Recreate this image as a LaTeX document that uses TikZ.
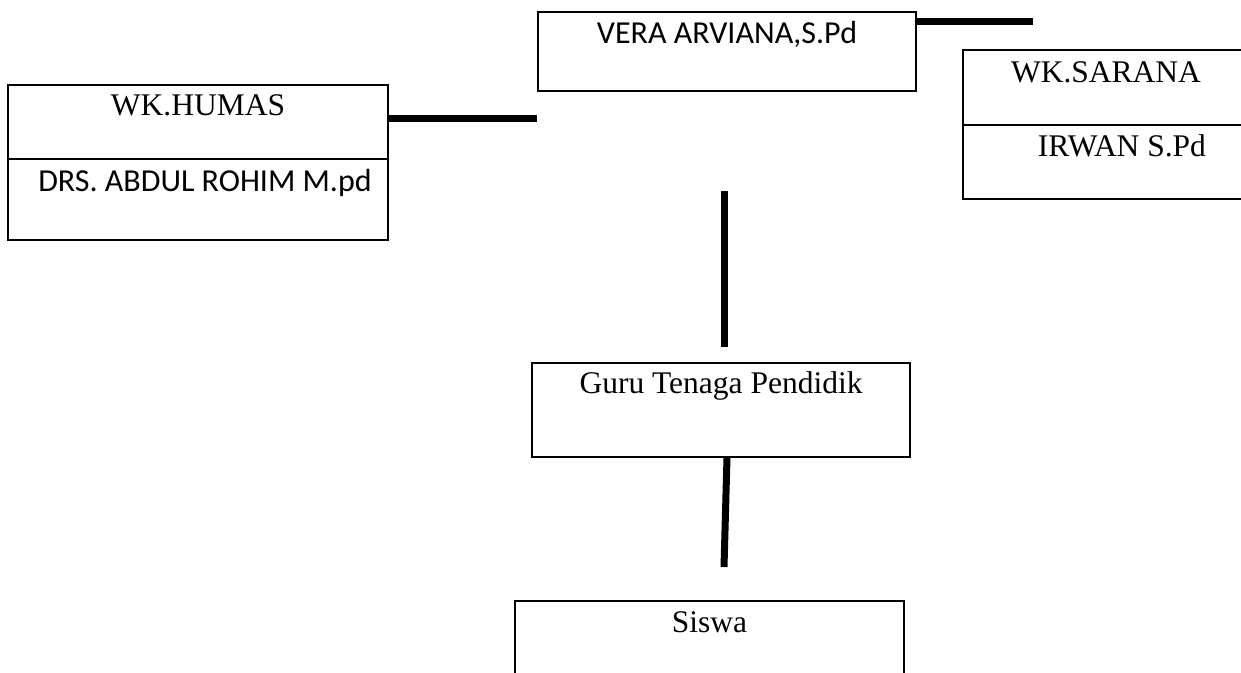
\documentclass[tikz,border=0pt]{standalone}
\usepackage{fontspec}
\setmainfont{Liberation Serif}
\newfontfamily\calibri{Carlito}

\tikzset{
box/.style={draw=black, line width=2.6pt, inner sep=0pt, outer sep=0pt},
tserif/.style={font=\fontsize{31.5}{36}\selectfont, inner sep=0pt, anchor=base},
tsans/.style={font=\calibri\fontsize{32}{38}\selectfont, inner sep=0pt, anchor=base},
link/.style={black, line width=7pt}}

\begin{document}
\begin{tikzpicture}[x=1pt,y=1pt,yscale=-1,xscale=1]

\useasboundingbox (0,0) rectangle (1241,672);
\clip (0,0) rectangle (1241,672);

% BOXES

\node [box, minimum width=378, minimum height=79] (vera) at (727,51.5) {};
\node [box, minimum width=380, minimum height=74] (humas) at (198,122) {};
\node [box, minimum width=380, minimum height=81] (humas-nama) at (198,199.5) {};
\node [box, minimum width=286, minimum height=75] (sarana) at (1106,87.5) {};
\node [box, minimum width=286, minimum height=74] (sarana-nama) at (1106,162) {};
\node [box, minimum width=378, minimum height=94] (guru) at (721,410) {};
\node [box, minimum width=389, minimum height=94] (siswa) at (709.5,648) {};

% LABELS

\node [tsans] (vera-t) at ([yshift=31]vera.north) {VERA ARVIANA,S.Pd};
\node [tserif] (humas-t) at ([yshift=30]humas.north) {WK.HUMAS};
\node [tsans] (humas-nama-t) at ([xshift=7,yshift=32]humas-nama.north) {DRS. ABDUL ROHIM M.pd};
\node [tserif] (sarana-t) at ([yshift=32]sarana.north) {WK.SARANA};
\node [tserif] (sarana-nama-t) at ([xshift=16,yshift=31]sarana-nama.north) {IRWAN S.Pd};
\node [tserif] (guru-t) at ([yshift=30]guru.north) {Guru Tenaga Pendidik};
\node [tserif] (siswa-t) at ([yshift=31]siswa.north) {Siswa};

% COORDINATES

\coordinate (h1) at (537,118);
\coordinate (v1) at (1033,21);
\coordinate (g1) at (724,191);
\coordinate (g2) at (724,347);
\coordinate (s1) at (724,567);

% LINES

\draw [link] (humas.east |- h1) -- (h1);
\draw [link] (vera.east |- v1) -- (v1);
\draw [link] (g1) -- (g2);
\draw [link] (guru.south) ++(6,0) -- (s1);

\end{tikzpicture}
\end{document}
